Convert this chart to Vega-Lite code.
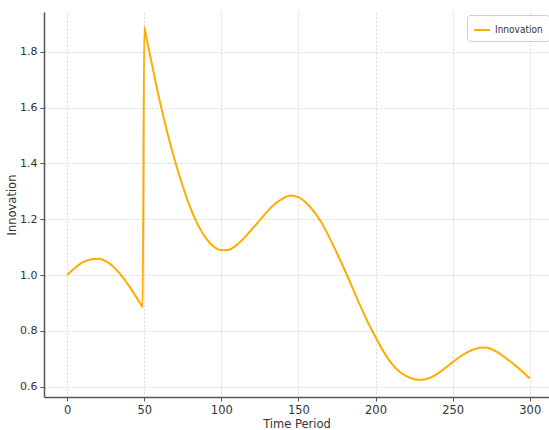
{
  "$schema": "https://vega.github.io/schema/vega-lite/v6.json",
  "width": 505,
  "height": 385,
  "autosize": {"type": "none"},
  "padding": {"left": 44, "top": 12, "right": 0, "bottom": 33},
  "background": "white",
  "config": {
    "view": {"stroke": null},
    "font": "DejaVu Sans",
    "axis": {
      "labelFont": "DejaVu Sans",
      "titleFont": "DejaVu Sans",
      "labelFontSize": 11,
      "titleFontSize": 11.5,
      "titleFontWeight": "normal",
      "labelColor": "#333333",
      "titleColor": "#333333",
      "domainColor": "#555555",
      "domainWidth": 1.5,
      "tickColor": "#555555",
      "tickSize": 4,
      "gridColor": "#cccccc",
      "gridDash": [2, 2],
      "gridWidth": 0.8
    }
  },
  "data": {
    "values": [
      {"t": 0, "v": 1.000, "s": "Innovation"},
      {"t": 5, "v": 1.025, "s": "Innovation"},
      {"t": 10, "v": 1.045, "s": "Innovation"},
      {"t": 15, "v": 1.056, "s": "Innovation"},
      {"t": 20, "v": 1.058, "s": "Innovation"},
      {"t": 25, "v": 1.050, "s": "Innovation"},
      {"t": 30, "v": 1.030, "s": "Innovation"},
      {"t": 35, "v": 1.000, "s": "Innovation"},
      {"t": 40, "v": 0.962, "s": "Innovation"},
      {"t": 45, "v": 0.920, "s": "Innovation"},
      {"t": 48, "v": 0.893, "s": "Innovation"},
      {"t": 49, "v": 0.885, "s": "Innovation"},
      {"t": 50, "v": 1.888, "s": "Innovation"},
      {"t": 51, "v": 1.861, "s": "Innovation"},
      {"t": 55, "v": 1.755, "s": "Innovation"},
      {"t": 60, "v": 1.625, "s": "Innovation"},
      {"t": 65, "v": 1.510, "s": "Innovation"},
      {"t": 70, "v": 1.408, "s": "Innovation"},
      {"t": 75, "v": 1.318, "s": "Innovation"},
      {"t": 80, "v": 1.240, "s": "Innovation"},
      {"t": 85, "v": 1.178, "s": "Innovation"},
      {"t": 90, "v": 1.132, "s": "Innovation"},
      {"t": 95, "v": 1.102, "s": "Innovation"},
      {"t": 100, "v": 1.089, "s": "Innovation"},
      {"t": 105, "v": 1.091, "s": "Innovation"},
      {"t": 110, "v": 1.108, "s": "Innovation"},
      {"t": 115, "v": 1.134, "s": "Innovation"},
      {"t": 120, "v": 1.165, "s": "Innovation"},
      {"t": 125, "v": 1.197, "s": "Innovation"},
      {"t": 130, "v": 1.229, "s": "Innovation"},
      {"t": 135, "v": 1.256, "s": "Innovation"},
      {"t": 140, "v": 1.275, "s": "Innovation"},
      {"t": 145, "v": 1.285, "s": "Innovation"},
      {"t": 150, "v": 1.279, "s": "Innovation"},
      {"t": 155, "v": 1.259, "s": "Innovation"},
      {"t": 160, "v": 1.228, "s": "Innovation"},
      {"t": 165, "v": 1.187, "s": "Innovation"},
      {"t": 170, "v": 1.135, "s": "Innovation"},
      {"t": 175, "v": 1.078, "s": "Innovation"},
      {"t": 180, "v": 1.018, "s": "Innovation"},
      {"t": 185, "v": 0.955, "s": "Innovation"},
      {"t": 190, "v": 0.891, "s": "Innovation"},
      {"t": 195, "v": 0.831, "s": "Innovation"},
      {"t": 200, "v": 0.778, "s": "Innovation"},
      {"t": 205, "v": 0.728, "s": "Innovation"},
      {"t": 210, "v": 0.686, "s": "Innovation"},
      {"t": 215, "v": 0.656, "s": "Innovation"},
      {"t": 220, "v": 0.638, "s": "Innovation"},
      {"t": 225, "v": 0.627, "s": "Innovation"},
      {"t": 230, "v": 0.625, "s": "Innovation"},
      {"t": 235, "v": 0.631, "s": "Innovation"},
      {"t": 240, "v": 0.646, "s": "Innovation"},
      {"t": 245, "v": 0.666, "s": "Innovation"},
      {"t": 250, "v": 0.688, "s": "Innovation"},
      {"t": 255, "v": 0.708, "s": "Innovation"},
      {"t": 260, "v": 0.725, "s": "Innovation"},
      {"t": 265, "v": 0.736, "s": "Innovation"},
      {"t": 270, "v": 0.740, "s": "Innovation"},
      {"t": 275, "v": 0.735, "s": "Innovation"},
      {"t": 280, "v": 0.720, "s": "Innovation"},
      {"t": 285, "v": 0.700, "s": "Innovation"},
      {"t": 290, "v": 0.679, "s": "Innovation"},
      {"t": 295, "v": 0.655, "s": "Innovation"},
      {"t": 300, "v": 0.629, "s": "Innovation"}
    ]
  },
  "mark": {"type": "line", "interpolate": "monotone", "strokeWidth": 2, "clip": true},
  "encoding": {
    "x": {
      "field": "t",
      "type": "quantitative",
      "title": "Time Period",
      "scale": {"domain": [-15, 312.5], "nice": false, "zero": false},
      "axis": {"values": [0, 50, 100, 150, 200, 250, 300], "titlePadding": 3, "labelPadding": 3, "labelFontSize": 11.5}
    },
    "y": {
      "field": "v",
      "type": "quantitative",
      "title": "Innovation",
      "scale": {"domain": [0.563, 1.9425], "nice": false, "zero": false},
      "axis": {"values": [0.6, 0.8, 1.0, 1.2, 1.4, 1.6, 1.8], "format": ".1f", "titlePadding": 2, "labelPadding": 3}
    },
    "color": {
      "field": "s",
      "type": "nominal",
      "scale": {"range": ["#ffac00"]},
      "legend": {
        "title": null,
        "orient": "none",
        "legendX": 423,
        "legendY": 3,
        "symbolType": "stroke",
        "symbolStrokeWidth": 2,
        "symbolSize": 250,
        "labelFontSize": 10,
        "labelFont": "DejaVu Sans Condensed, DejaVu Sans",
        "labelColor": "#333333",
        "strokeColor": "#cccccc",
        "fillColor": "white",
        "cornerRadius": 3,
        "padding": 6
      }
    }
  }
}
